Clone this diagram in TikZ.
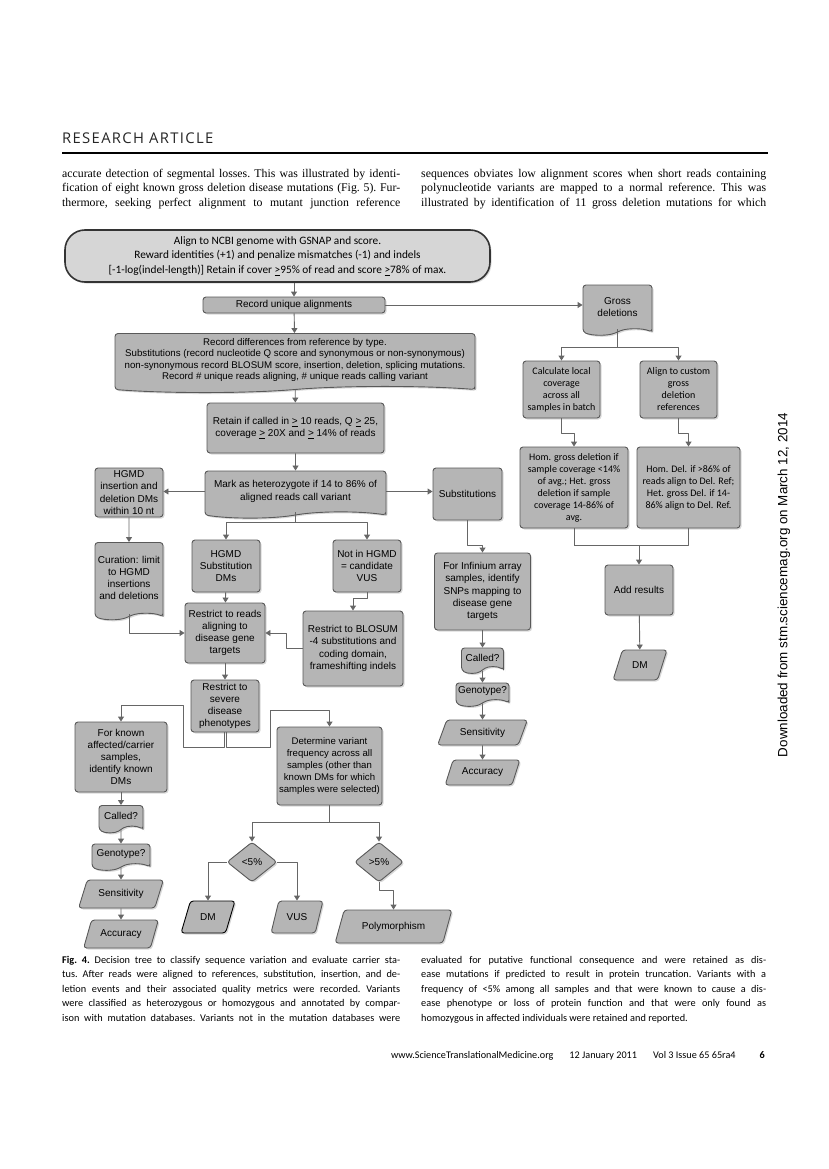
\documentclass[tikz,border=0pt]{standalone}
\usepackage{fontspec}
\setmainfont{Liberation Serif}
\setsansfont{Liberation Sans}
\newfontfamily\calfont{Carlito}
\newfontfamily\hdrfont[LetterSpace=9]{Open Sans}
\usetikzlibrary{shapes.geometric,shapes.symbols,shadows,arrows.meta}

\definecolor{boxfill}{gray}{0.71}
\definecolor{topfill}{gray}{0.84}
\definecolor{boxline}{gray}{0.35}
\definecolor{wirecol}{gray}{0.40}
\newcommand\atl{\underline{>}}

\tikzset{
  box/.style={draw=boxline,fill=boxfill,line width=0.9pt,rounded corners=3pt,align=center,inner sep=1pt,
    font=\sffamily\fontsize{10}{12.2}\selectfont,
    drop shadow={shadow xshift=1.5pt,shadow yshift=-1.5pt,opacity=0.3}},
  wh/.style 2 args={minimum width=#1pt,minimum height=#2pt},
  doc/.style={box,tape,tape bend top=none,tape bend height=6pt},
  para/.style={box,trapezium,trapezium left angle=62,trapezium right angle=118,trapezium stretches=true},
  dia/.style={box,diamond},
  cal/.style={font=\calfont\fontsize{10}{12}\selectfont},
  wire/.style={draw=wirecol,line width=0.9pt},
  link/.style={wire,-{Triangle[length=5pt,width=6pt]}},
  txt/.style={inner sep=0pt,anchor=base west,font=\fontsize{11.8}{14}\selectfont\frenchspacing},
  capt/.style={inner sep=0pt,anchor=base west,font=\calfont\fontsize{10.3}{14.6}\selectfont\frenchspacing},
}

\begin{document}
\begin{tikzpicture}[x=1pt,y=-1pt,line join=round]
  \useasboundingbox[fill=white] (0,0) rectangle (828,1169);

  \node (hdr) [anchor=base west,inner sep=0pt,font=\hdrfont\fontsize{14.8}{15}\selectfont,text=black!85] at (62,144) {RESEARCH ARTICLE};
  \draw[line width=1.5pt] (62,153) -- (768,153);
  \foreach \t [count=\i from 0] in {{accurate detection of segmental losses. This was illustrated by identi-},
      {fication of eight known gross deletion disease mutations (Fig. 5). Fur-},
      {thermore, seeking perfect alignment to mutant junction reference}}
    \node (la\i) [txt] at (62,178+14*\i) {\makebox[338pt][s]{\t}};
  \foreach \t [count=\i from 0] in {{sequences obviates low alignment scores when short reads containing},
      {polynucleotide variants are mapped to a normal reference. This was},
      {illustrated by identification of 11 gross deletion mutations for which}}
    \node (lb\i) [txt] at (421,178+14*\i) {\makebox[345pt][s]{\t}};

  \node (top) [box,wh={425}{52},fill=topfill,draw=black!80,line width=1.6pt,rounded corners=20pt,font=\calfont\fontsize{11.3}{14.5}\selectfont] at (277.5,256)
    {Align to NCBI genome with GSNAP and score.\\Reward identities (+1) and penalize mismatches (-1) and indels\\{[}-1-log(indel-length){]} Retain if cover \atl95\% of read and score \atl78\% of max.};
  \node (uniq) [box,wh={182}{16}] at (294,305) {Record unique alignments};
  \node (diff) [doc,wh={360}{59},font=\sffamily\fontsize{9.7}{11.3}\selectfont] at (295,360)
    {Record differences from reference by type.\\Substitutions (record nucleotide Q score and synonymous or non-synonymous)\\non-synonymous record BLOSUM score, insertion, deletion, splicing mutations.\\Record \# unique reads aligning, \# unique reads calling variant};
  \node (retain) [box,wh={177}{50}] at (295.5,428) {Retain if called in \atl{} 10 reads, Q \atl{} 25,\\coverage \atl{} 20X and \atl{} 14\% of reads};
  \node (mark) [doc,wh={181}{47}] at (295.5,491.5) {Mark as heterozygote if 14 to 86\% of\\aligned reads call variant};
  \node (hgmdid) [box,wh={68}{49}] at (129,492.5) {HGMD\\insertion and\\deletion DMs\\within 10 nt};
  \node (subs) [box,wh={69}{52}] at (467.5,494) {Substitutions};
  \node (cur) [doc,wh={68}{77}] at (129,578) {Curation: limit\\to HGMD\\insertions\\and deletions};
  \node (hsub) [box,wh={68}{52}] at (226,566) {HGMD\\Substitution\\DMs};
  \node (nohg) [box,wh={68}{52}] at (367,566) {Not in HGMD\\= candidate\\VUS};
  \node (rreads) [box,wh={80}{60}] at (225,633) {Restrict to reads\\aligning to\\disease gene\\targets};
  \node (blos) [box,wh={100}{75}] at (353,648.5) {Restrict to BLOSUM\\-4 substitutions and\\coding domain,\\frameshifting indels};
  \node (sev) [box,wh={68}{52}] at (225,706) {Restrict to\\severe\\disease\\phenotypes};
  \node (known) [box,wh={92}{70}] at (121,757) {For known\\affected/carrier\\samples,\\identify known\\DMs};
  \node (det) [box,wh={105}{78},font=\sffamily\fontsize{9.6}{12}\selectfont] at (329.5,766) {Determine variant\\frequency across all\\samples (other than\\known DMs for which\\samples were selected)};
  \node (call1) [doc,wh={44}{27}] at (121,816) {Called?};
  \node (gen1) [doc,wh={58}{26}] at (121,854) {Genotype?};
  \node (sens1) [para,wh={85}{28}] at (121,894) {Sensitivity};
  \node (acc1) [para,wh={75}{28}] at (121,934) {Accuracy};
  \node (lo) [dia,wh={50}{40}] at (252,862) {<5\%};
  \node (hi) [dia,wh={49}{40}] at (379,862) {>5\%};
  \node (dm1) [para,wh={54}{32},draw=black] at (208,917) {DM};
  \node (vus) [para,wh={52}{32}] at (297,917) {VUS};
  \node (poly) [para,wh={117}{33}] at (393.5,926.5) {Polymorphism};

  \node (gross) [doc,wh={69}{50}] at (617.5,307) {Gross\\deletions};
  \node (calc) [box,cal,wh={77}{57}] at (561.5,389.5) {Calculate local\\coverage\\across all\\samples in batch};
  \node (alig) [box,cal,wh={77}{57}] at (678.5,389.5) {Align to custom\\gross\\deletion\\references};
  \node (homg) [box,cal,wh={108}{81}] at (574,487.5) {Hom. gross deletion if\\sample coverage <14\%\\of avg.; Het. gross\\deletion if sample\\coverage 14-86\% of\\avg.};
  \node (homd) [box,cal,wh={103}{81}] at (688.5,487.5) {Hom. Del. if >86\% of\\reads align to Del. Ref;\\Het. gross Del. if 14-\\86\% align to Del. Ref.};
  \node (add) [box,wh={68}{50}] at (639,590) {Add results};
  \node (dm2) [para,wh={54}{30}] at (640,665) {DM};

  \node (inf) [box,wh={96}{77}] at (482.5,591.5) {For Infinium array\\samples, identify\\SNPs mapping to\\disease gene\\targets};
  \node (call2) [doc,wh={42}{25}] at (482.5,657.5) {Called?};
  \node (gen2) [doc,wh={53}{23}] at (482.5,691.5) {Genotype?};
  \node (sens2) [para,wh={90}{25}] at (482.5,732.5) {Sensitivity};
  \node (acc2) [para,wh={75}{25}] at (482.5,772.5) {Accuracy};

  \draw[link] (uniq.north |- top.south) -- (uniq.north);
  \draw[link] (uniq) -- (diff);
  \draw[link] (uniq.east) -- (uniq.east -| gross.west);
  \draw[link] (diff) -- (retain);
  \draw[link] (retain) -- (mark);
  \draw[link] (mark.west) -- (mark.west -| hgmdid.east);
  \draw[link] (mark.east) -- (mark.east -| subs.west);
  \draw[link] (mark.south) -- ++(0,10) -| (hsub);
  \draw[link] (mark.south) -- ++(0,10) -| (nohg);
  \draw[link] (hgmdid) -- (cur);
  \draw[link] (hsub) -- (rreads);
  \draw[link] (cur.south) |- (rreads);
  \draw[link] (nohg.south) -- ++(0,6) -| (blos);
  \draw[link] (blos.west) -- ++(-16,0) |- (rreads);
  \draw[link] (rreads) -- (sev);
  \draw[link] ([xshift=-1pt]sev.south) -- ++(0,15) -| ++(-41,-42) -| (known);
  \draw[link] ([xshift=1pt]sev.south) -- ++(0,15) -| ++(44,-37) -| (det);
  \draw[link] (known) -- (call1);
  \draw[link] (call1) -- (gen1);
  \draw[link] (gen1) -- (sens1);
  \draw[link] (sens1) -- (acc1);
  \draw[link] (det.south) -- ++(0,17) -| (lo);
  \draw[link] (det.south) -- ++(0,17) -| (hi);
  \draw[link] (lo.west) -| (dm1);
  \draw[link] (lo.east) -| (vus);
  \draw[link] (hi.south) -- ++(0,8) -| (poly);

  \draw[link] (subs.south) -- ++(0,25) -| (inf);
  \draw[link] (inf) -- (call2);
  \draw[link] (call2) -- (gen2);
  \draw[link] (gen2) -- (sens2);
  \draw[link] (sens2) -- (acc2);

  \draw[link] (gross.south) -- ++(0,18) -| (calc);
  \draw[link] (gross.south) -- ++(0,18) -| (alig);
  \draw[link] (calc.south) -- ++(0,15) -| (homg);
  \draw[link] (alig.south) -- ++(0,15) -| (homd);
  \draw[wire] (homg.south) -- ++(0,17) -| (homd.south);
  \draw[link] (homg.south) ++(0,17) -| (add);
  \draw[link] (add) -- (dm2);

  \foreach \t [count=\i from 0] in {{\textbf{Fig. 4.} Decision tree to classify sequence variation and evaluate carrier sta-},
      {tus. After reads were aligned to references, substitution, insertion, and de-},
      {letion events and their associated quality metrics were recorded. Variants},
      {were classified as heterozygous or homozygous and annotated by compar-},
      {ison with mutation databases. Variants not in the mutation databases were}}
    \node (ca\i) [capt] at (62,963+14.6*\i) {\makebox[338pt][s]{\t}};
  \foreach \t [count=\i from 0] in {{evaluated for putative functional consequence and were retained as dis-},
      {ease mutations if predicted to result in protein truncation. Variants with a},
      {frequency of <5\% among all samples and that were known to cause a dis-},
      {ease phenotype or loss of protein function and that were only found as}}
    \node (cb\i) [capt] at (421,963+14.6*\i) {\makebox[345pt][s]{\t}};
  \node (cb4) [capt] at (421,1021.4) {homozygous in affected individuals were retained and reported.};

  \node (foot) [anchor=base east,inner sep=0pt,font=\calfont\fontsize{10.2}{12}\selectfont] at (765,1058)
    {www.ScienceTranslationalMedicine.org\hspace{16pt}12 January 2011\hspace{16pt}Vol 3 Issue 65 65ra4\hspace{24pt}\textbf{6}};
  \node (side) [rotate=90,inner sep=0pt,font=\sffamily\fontsize{13.4}{15}\selectfont] at (784,585) {Downloaded from stm.sciencemag.org on March 12, 2014};
\end{tikzpicture}
\end{document}
